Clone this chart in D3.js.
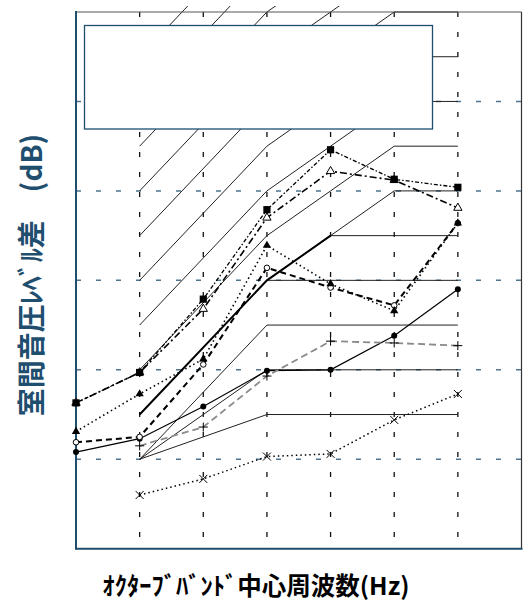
<!DOCTYPE html>
<html>
<head>
<meta charset="utf-8">
<script src="https://cdn.jsdelivr.net/npm/d3@7"></script>
<style>
  html, body { margin: 0; padding: 0; background: #fff; }
  svg { display: block; }
</style>
</head>
<body>
<svg id="chart" width="523" height="606"></svg>
<script>
// Octave bands (index 0..6); the frame extends one slot past 4k.
const bands = ["63", "125", "250", "500", "1k", "2k", "4k"];
const gridDb = [20, 30, 40, 50, 60];

// Rating reference curves: [band index, dB] vertices.
const refCurves = [
  [[1, 65], [3, 80], [4, 85]],
  [[1, 60], [3, 75], [4, 80]],
  [[1, 55], [3, 70], [4, 75], [5, 80]],
  [[1, 50], [3, 65], [4, 70], [5, 75], [6, 75]],
  [[1, 45], [3, 60], [4, 65], [5, 70], [6, 70]],
  [[1, 40], [3, 55], [4, 60], [5, 65], [6, 65]],
  [[1, 35], [3, 50], [4, 55], [5, 60], [6, 60]],
  [[1, 30], [3, 45], [4, 50], [5, 55], [6, 55]],
  [[1, 25], [3, 40], [4, 45], [5, 50], [6, 50]],
  [[4, 45], [6, 45]],
  [[3, 40], [6, 40]],
  [[1, 20], [3, 35], [6, 35]],
  [[1, 20], [3, 30], [6, 30]],
  [[1, 20], [3, 25], [6, 25]]
];
const boldCurve = [[1, 25], [3, 40], [4, 45]];

// Measured level differences per band (dB), 63 Hz .. 4 kHz
const squareVals     = [26.3, 29.7, 37.9, 47.9, 54.6, 51.3, 50.4];
const triOpenVals    = [26.3, 29.7, 36.8, 47.0, 52.2, 51.2, 48.1];
const triFilledVals  = [23.1, 27.3, 31.2, 43.9, 39.6, 36.6, 46.4];
const circOpenVals   = [21.9, 22.5, 30.6, 41.4, 39.2, 37.2, 46.4];
const circFilledVals = [20.8, 22.3, 25.9, 29.9, 30.0, 33.8, 39.0];
const plusVals       = [null, 21.5, 23.6, 29.3, 33.2, 33.0, 32.7];
const crossVals      = [null, 16.0, 17.8, 20.3, 20.6, 24.4, 27.3];

const svg = d3.select("#chart");
const plotL = 76, plotR = 521.5, plotT = 12, plotB = 548.7;
const x = d3.scaleLinear().domain([0, bands.length]).range([plotL, plotR]);
const y = d3.scaleLinear().domain([10, 70]).range([plotB, plotT]);
const line = d3.line().defined(d => d[1] != null).x(d => x(d[0])).y(d => y(d[1]));
const toPts = vals => vals.map((v, i) => [i, v]);

svg.append("defs").append("clipPath").attr("id", "refclip")
  .append("rect").attr("x", plotL).attr("y", 6).attr("width", plotR - plotL).attr("height", plotB - 6);

// grid
const grid = svg.append("g");
grid.selectAll("line.h").data(gridDb).join("line")
  .attr("x1", plotL).attr("x2", plotR)
  .attr("y1", d => y(d)).attr("y2", d => y(d))
  .attr("stroke", "#4f7490").attr("stroke-width", 1.5).attr("stroke-dasharray", "5,15");
grid.selectAll("line.v").data(d3.range(1, bands.length)).join("line")
  .attr("x1", d => x(d)).attr("x2", d => x(d))
  .attr("y1", plotT).attr("y2", plotB)
  .attr("stroke", "#111").attr("stroke-width", 1.3).attr("stroke-dasharray", "5,15");

// reference curves
const ref = svg.append("g").attr("clip-path", "url(#refclip)");
ref.selectAll("path").data(refCurves).join("path")
  .attr("d", line).attr("fill", "none").attr("stroke", "#222").attr("stroke-width", 1);
ref.append("path").attr("d", line(boldCurve))
  .attr("fill", "none").attr("stroke", "#000").attr("stroke-width", 2);

// legend frame
svg.append("rect").attr("x", 84.5).attr("y", 25.5).attr("width", 348).attr("height", 103.5)
  .attr("fill", "#fff").attr("stroke", "#1f4e6e").attr("stroke-width", 1.3);

// frame
svg.append("line").attr("x1", plotL).attr("x2", plotR).attr("y1", plotT).attr("y2", plotT)
  .attr("stroke", "#555").attr("stroke-width", 1);
svg.append("line").attr("x1", plotR).attr("x2", plotR).attr("y1", plotT).attr("y2", plotB)
  .attr("stroke", "#333").attr("stroke-width", 1.2);
svg.append("line").attr("x1", plotL).attr("x2", plotR + 1).attr("y1", plotB).attr("y2", plotB)
  .attr("stroke", "#1f4e6e").attr("stroke-width", 2);
svg.append("line").attr("x1", plotL).attr("x2", plotL).attr("y1", plotT - 1).attr("y2", plotB + 1)
  .attr("stroke", "#1f4e6e").attr("stroke-width", 2);

// series lines
const series = [
  { vals: circFilledVals, stroke: "#000", w: 1.2, dash: null },
  { vals: plusVals, stroke: "#8a8a8a", w: 1.8, dash: "7,4" },
  { vals: crossVals, stroke: "#000", w: 1.5, dash: "1.5,3" },
  { vals: circOpenVals, stroke: "#000", w: 2, dash: "6,4" },
  { vals: triFilledVals, stroke: "#000", w: 1.6, dash: "1.5,3" },
  { vals: triOpenVals, stroke: "#000", w: 1.6, dash: "7,3,2,3" },
  { vals: squareVals, stroke: "#000", w: 1.3, dash: "4,2,1.5,2" }
];
svg.append("g").selectAll("path").data(series).join("path")
  .attr("d", s => line(toPts(s.vals)))
  .attr("fill", "none").attr("stroke", s => s.stroke)
  .attr("stroke-width", s => s.w).attr("stroke-dasharray", s => s.dash);

// markers
const mk = svg.append("g");
const pts = vals => toPts(vals).filter(d => d[1] != null);
const tri = d3.symbol().type(d3.symbolTriangle).size(30)();

mk.append("g").selectAll("path").data(pts(crossVals)).join("path")
  .attr("transform", d => `translate(${x(d[0])},${y(d[1])})`)
  .attr("d", "M-4,-4L4,4M-4,4L4,-4").attr("stroke", "#000").attr("stroke-width", 1).attr("fill", "none");
mk.append("g").selectAll("path").data(pts(plusVals)).join("path")
  .attr("transform", d => `translate(${x(d[0])},${y(d[1])})`)
  .attr("d", "M-4.5,0H4.5M0,-4.5V4.5").attr("stroke", "#000").attr("stroke-width", 1).attr("fill", "none");
mk.append("g").selectAll("circle").data(pts(circFilledVals)).join("circle")
  .attr("cx", d => x(d[0])).attr("cy", d => y(d[1])).attr("r", 3).attr("fill", "#000");
mk.append("g").selectAll("circle").data(pts(circOpenVals)).join("circle")
  .attr("cx", d => x(d[0])).attr("cy", d => y(d[1])).attr("r", 2.8)
  .attr("fill", "#fff").attr("stroke", "#000").attr("stroke-width", 1);
mk.append("g").selectAll("path").data(pts(triOpenVals)).join("path")
  .attr("transform", d => `translate(${x(d[0])},${y(d[1])})`)
  .attr("d", tri).attr("fill", "#fff").attr("stroke", "#000").attr("stroke-width", 1);
mk.append("g").selectAll("path").data(pts(triFilledVals)).join("path")
  .attr("transform", d => `translate(${x(d[0])},${y(d[1])})`)
  .attr("d", tri).attr("fill", "#000");
mk.append("g").selectAll("rect").data(pts(squareVals)).join("rect")
  .attr("x", d => x(d[0]) - 3.6).attr("y", d => y(d[1]) - 3.6)
  .attr("width", 7.2).attr("height", 7.2).attr("fill", "#000");

// axis titles
svg.append("text")
  .attr("transform", "translate(42,275) rotate(-90)")
  .attr("text-anchor", "middle")
  .attr("font-family", "'Noto Sans CJK JP', sans-serif")
  .attr("font-weight", "bold").attr("font-size", 28)
  .attr("fill", "#1f4e6e")
  .text("室間音圧ﾚﾍﾞﾙ差\u3000(dB)");
svg.append("text")
  .attr("x", 256).attr("y", 595)
  .attr("text-anchor", "middle")
  .attr("font-family", "'Noto Sans CJK JP', sans-serif")
  .attr("font-weight", "bold").attr("font-size", 24.5)
  .attr("fill", "#000")
  .text("ｵｸﾀｰﾌﾞﾊﾞﾝﾄﾞ中心周波数(Hz)");
</script>
</body>
</html>
